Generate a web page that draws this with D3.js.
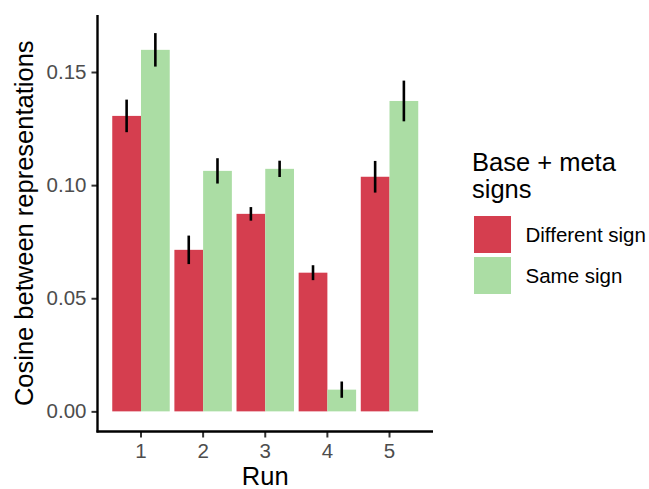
<!DOCTYPE html>
<html>
<head>
<meta charset="utf-8">
<script src="https://cdn.jsdelivr.net/npm/d3@7"></script>
<style>
  html, body { margin: 0; padding: 0; background: #fff; }
  svg { display: block; font-family: "Liberation Sans", Arial, Helvetica, sans-serif; }
</style>
</head>
<body>
<svg id="chart" width="649" height="489"></svg>
<script>
// Mean cosine between base and meta representations, per run
const runs = ["1", "2", "3", "4", "5"];
const signGroups = ["Different sign", "Same sign"];
const differentMean = [0.1306, 0.0714, 0.0873, 0.0613, 0.1037];
const differentErr  = [0.0072, 0.0063, 0.0030, 0.0033, 0.0070];
const sameMean      = [0.1598, 0.1063, 0.1072, 0.0096, 0.1372];
const sameErr       = [0.0074, 0.0056, 0.0036, 0.0036, 0.0090];
const yTicks = [0, 0.05, 0.10, 0.15];
const colors = ["#D53E4F", "#ABDDA4"];

const rows = [];
runs.forEach((r, i) => {
  rows.push({ run: r, sign: signGroups[0], mean: differentMean[i], err: differentErr[i] });
  rows.push({ run: r, sign: signGroups[1], mean: sameMean[i], err: sameErr[i] });
});

const svg = d3.select("#chart");
const panel = { left: 97.5, right: 433, top: 15, bottom: 431.5 };

const x = d3.scaleBand().domain(runs)
  .range([panel.left, panel.right]).paddingInner(0).paddingOuter(0.2);
const groupWidth = x.step() * 0.925;
const xSign = d3.scaleBand().domain(signGroups).range([-groupWidth / 2, groupWidth / 2]);
const y = d3.scaleLinear().domain([-0.0089, 0.1752]).range([panel.bottom, panel.top]);
const color = d3.scaleOrdinal().domain(signGroups).range(colors);

// bars
svg.append("g").selectAll("rect").data(rows).join("rect")
  .attr("x", d => x(d.run) + x.bandwidth() / 2 + xSign(d.sign))
  .attr("width", xSign.bandwidth())
  .attr("y", d => y(d.mean))
  .attr("height", d => y(0) - y(d.mean))
  .attr("fill", d => color(d.sign));

// error bars
svg.append("g").selectAll("line").data(rows).join("line")
  .attr("x1", d => x(d.run) + x.bandwidth() / 2 + xSign(d.sign) + xSign.bandwidth() / 2)
  .attr("x2", d => x(d.run) + x.bandwidth() / 2 + xSign(d.sign) + xSign.bandwidth() / 2)
  .attr("y1", d => y(d.mean + d.err))
  .attr("y2", d => y(d.mean - d.err))
  .attr("stroke", "#000").attr("stroke-width", 2.6);

// axes
const yAxis = svg.append("g").attr("transform", `translate(${panel.left},0)`)
  .call(d3.axisLeft(y).tickValues(yTicks).tickFormat(d3.format(".2f")).tickSize(6).tickPadding(5));
const xAxis = svg.append("g").attr("transform", `translate(0,${panel.bottom})`)
  .call(d3.axisBottom(x).tickSize(6).tickPadding(6));

[yAxis, xAxis].forEach(g => {
  g.select(".domain").remove();
  g.selectAll(".tick line").attr("stroke", "#333").attr("stroke-width", 2);
  g.selectAll(".tick text").attr("fill", "#4D4D4D").style("font-size", "20.5px")
    .style("font-family", "'Liberation Sans', Arial, sans-serif");
});
xAxis.selectAll(".tick text").attr("dy", "0.71em").attr("y", 11.5);

svg.append("line").attr("x1", panel.left).attr("x2", panel.left)
  .attr("y1", panel.top).attr("y2", panel.bottom + 1)
  .attr("stroke", "#000").attr("stroke-width", 2.4);
svg.append("line").attr("x1", panel.left - 1).attr("x2", panel.right)
  .attr("y1", panel.bottom).attr("y2", panel.bottom)
  .attr("stroke", "#000").attr("stroke-width", 2.4);

// axis titles
svg.append("text").attr("x", (panel.left + panel.right) / 2).attr("y", 485)
  .attr("text-anchor", "middle").style("font-size", "25.5px").attr("fill", "#000").text("Run");
svg.append("text").attr("transform", `translate(33,${(panel.top + panel.bottom) / 2}) rotate(-90)`)
  .attr("text-anchor", "middle").style("font-size", "25.5px").attr("fill", "#000")
  .text("Cosine between representations");

// legend
const legend = svg.append("g");
legend.append("text").attr("x", 472).attr("y", 171).style("font-size", "25.5px").text("Base + meta");
legend.append("text").attr("x", 472).attr("y", 198).style("font-size", "25.5px").text("signs");
const item = legend.selectAll("g.item").data(signGroups).join("g").attr("class", "item")
  .attr("transform", (d, i) => `translate(474,${216 + i * 41})`);
item.append("rect").attr("width", 37).attr("height", 37).attr("fill", d => color(d));
item.append("text").attr("x", 51.5).attr("y", 26).style("font-size", "20.5px").attr("fill", "#000").text(d => d);
</script>
</body>
</html>
